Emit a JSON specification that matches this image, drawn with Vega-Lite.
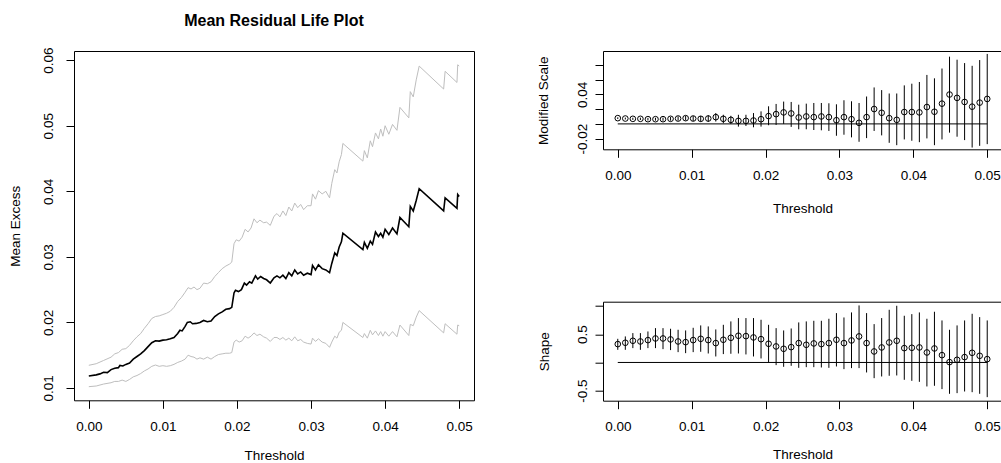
{
"$schema": "https://vega.github.io/schema/vega-lite/v6.json",
"padding": {"left": 7, "top": 12, "right": 0, "bottom": 0},
"bounds": "flush",
"spacing": 129,
"datasets": {
"mrl": [
{"s":"mean","t":0.0000,"v":0.01183},{"s":"mean","t":0.0010,"v":0.01200},{"s":"mean","t":0.0015,"v":0.01215},{"s":"mean","t":0.0020,"v":0.01240},{"s":"mean","t":0.0025,"v":0.01235},{"s":"mean","t":0.0030,"v":0.01280},{"s":"mean","t":0.0035,"v":0.01300},{"s":"mean","t":0.0040,"v":0.01310},{"s":"mean","t":0.0042,"v":0.01345},{"s":"mean","t":0.0046,"v":0.01335},{"s":"mean","t":0.0050,"v":0.01360},{"s":"mean","t":0.0055,"v":0.01380},{"s":"mean","t":0.0060,"v":0.01440},{"s":"mean","t":0.0065,"v":0.01480},{"s":"mean","t":0.0070,"v":0.01520},{"s":"mean","t":0.0075,"v":0.01570},{"s":"mean","t":0.0080,"v":0.01630},{"s":"mean","t":0.0085,"v":0.01690},{"s":"mean","t":0.0090,"v":0.01720},{"s":"mean","t":0.0095,"v":0.01715},{"s":"mean","t":0.0100,"v":0.01730},{"s":"mean","t":0.0105,"v":0.01735},{"s":"mean","t":0.0110,"v":0.01750},{"s":"mean","t":0.0115,"v":0.01770},{"s":"mean","t":0.0120,"v":0.01830},{"s":"mean","t":0.0123,"v":0.01880},{"s":"mean","t":0.0126,"v":0.01870},{"s":"mean","t":0.0130,"v":0.01940},{"s":"mean","t":0.0133,"v":0.02000},{"s":"mean","t":0.0137,"v":0.02010},{"s":"mean","t":0.0140,"v":0.01980},{"s":"mean","t":0.0145,"v":0.01985},{"s":"mean","t":0.0150,"v":0.02000},{"s":"mean","t":0.0155,"v":0.02030},{"s":"mean","t":0.0160,"v":0.02010},{"s":"mean","t":0.0165,"v":0.02020},{"s":"mean","t":0.0170,"v":0.02090},{"s":"mean","t":0.0175,"v":0.02130},{"s":"mean","t":0.0180,"v":0.02160},{"s":"mean","t":0.0185,"v":0.02200},{"s":"mean","t":0.0190,"v":0.02210},{"s":"mean","t":0.0193,"v":0.02230},{"s":"mean","t":0.0196,"v":0.02450},{"s":"mean","t":0.0198,"v":0.02490},{"s":"mean","t":0.0202,"v":0.02470},{"s":"mean","t":0.0206,"v":0.02500},{"s":"mean","t":0.0210,"v":0.02600},{"s":"mean","t":0.0213,"v":0.02570},{"s":"mean","t":0.0217,"v":0.02620},{"s":"mean","t":0.0220,"v":0.02600},{"s":"mean","t":0.0225,"v":0.02710},{"s":"mean","t":0.0228,"v":0.02660},{"s":"mean","t":0.0232,"v":0.02700},{"s":"mean","t":0.0236,"v":0.02670},{"s":"mean","t":0.0240,"v":0.02650},{"s":"mean","t":0.0245,"v":0.02600},{"s":"mean","t":0.0250,"v":0.02680},{"s":"mean","t":0.0254,"v":0.02710},{"s":"mean","t":0.0258,"v":0.02680},{"s":"mean","t":0.0262,"v":0.02720},{"s":"mean","t":0.0266,"v":0.02670},{"s":"mean","t":0.0270,"v":0.02760},{"s":"mean","t":0.0274,"v":0.02710},{"s":"mean","t":0.0278,"v":0.02800},{"s":"mean","t":0.0282,"v":0.02740},{"s":"mean","t":0.0286,"v":0.02770},{"s":"mean","t":0.0290,"v":0.02720},{"s":"mean","t":0.0295,"v":0.02750},{"s":"mean","t":0.0300,"v":0.02730},{"s":"mean","t":0.0302,"v":0.02870},{"s":"mean","t":0.0306,"v":0.02800},{"s":"mean","t":0.0310,"v":0.02880},{"s":"mean","t":0.0315,"v":0.02820},{"s":"mean","t":0.0320,"v":0.02800},{"s":"mean","t":0.0325,"v":0.02760},{"s":"mean","t":0.0328,"v":0.02900},{"s":"mean","t":0.0332,"v":0.03060},{"s":"mean","t":0.0335,"v":0.03020},{"s":"mean","t":0.0338,"v":0.03150},{"s":"mean","t":0.0341,"v":0.03230},{"s":"mean","t":0.0343,"v":0.03360},{"s":"mean","t":0.0370,"v":0.03110},{"s":"mean","t":0.0372,"v":0.03220},{"s":"mean","t":0.0376,"v":0.03130},{"s":"mean","t":0.0380,"v":0.03240},{"s":"mean","t":0.0383,"v":0.03190},{"s":"mean","t":0.0387,"v":0.03380},{"s":"mean","t":0.0391,"v":0.03310},{"s":"mean","t":0.0394,"v":0.03360},{"s":"mean","t":0.0397,"v":0.03300},{"s":"mean","t":0.0400,"v":0.03420},{"s":"mean","t":0.0405,"v":0.03340},{"s":"mean","t":0.0410,"v":0.03440},{"s":"mean","t":0.0416,"v":0.03350},{"s":"mean","t":0.0420,"v":0.03600},{"s":"mean","t":0.0432,"v":0.03460},{"s":"mean","t":0.0434,"v":0.03770},{"s":"mean","t":0.0438,"v":0.03700},{"s":"mean","t":0.0442,"v":0.03860},{"s":"mean","t":0.0446,"v":0.04040},{"s":"mean","t":0.0479,"v":0.03700},{"s":"mean","t":0.0481,"v":0.03900},{"s":"mean","t":0.0497,"v":0.03740},{"s":"mean","t":0.0498,"v":0.03950},{"s":"mean","t":0.0500,"v":0.03920},
{"s":"upper","t":0.0000,"v":0.01346},{"s":"upper","t":0.0010,"v":0.01370},{"s":"upper","t":0.0020,"v":0.01420},{"s":"upper","t":0.0030,"v":0.01470},{"s":"upper","t":0.0035,"v":0.01520},{"s":"upper","t":0.0040,"v":0.01540},{"s":"upper","t":0.0045,"v":0.01590},{"s":"upper","t":0.0050,"v":0.01600},{"s":"upper","t":0.0055,"v":0.01650},{"s":"upper","t":0.0060,"v":0.01720},{"s":"upper","t":0.0065,"v":0.01780},{"s":"upper","t":0.0070,"v":0.01830},{"s":"upper","t":0.0075,"v":0.01910},{"s":"upper","t":0.0080,"v":0.01980},{"s":"upper","t":0.0085,"v":0.02060},{"s":"upper","t":0.0090,"v":0.02090},{"s":"upper","t":0.0095,"v":0.02100},{"s":"upper","t":0.0100,"v":0.02120},{"s":"upper","t":0.0105,"v":0.02140},{"s":"upper","t":0.0110,"v":0.02170},{"s":"upper","t":0.0115,"v":0.02230},{"s":"upper","t":0.0120,"v":0.02320},{"s":"upper","t":0.0125,"v":0.02380},{"s":"upper","t":0.0130,"v":0.02460},{"s":"upper","t":0.0134,"v":0.02530},{"s":"upper","t":0.0138,"v":0.02510},{"s":"upper","t":0.0142,"v":0.02540},{"s":"upper","t":0.0146,"v":0.02500},{"s":"upper","t":0.0150,"v":0.02520},{"s":"upper","t":0.0155,"v":0.02600},{"s":"upper","t":0.0160,"v":0.02590},{"s":"upper","t":0.0165,"v":0.02620},{"s":"upper","t":0.0170,"v":0.02700},{"s":"upper","t":0.0175,"v":0.02760},{"s":"upper","t":0.0180,"v":0.02820},{"s":"upper","t":0.0185,"v":0.02860},{"s":"upper","t":0.0190,"v":0.02890},{"s":"upper","t":0.0193,"v":0.02920},{"s":"upper","t":0.0196,"v":0.03200},{"s":"upper","t":0.0199,"v":0.03260},{"s":"upper","t":0.0203,"v":0.03240},{"s":"upper","t":0.0207,"v":0.03300},{"s":"upper","t":0.0211,"v":0.03420},{"s":"upper","t":0.0215,"v":0.03380},{"s":"upper","t":0.0219,"v":0.03440},{"s":"upper","t":0.0223,"v":0.03580},{"s":"upper","t":0.0227,"v":0.03520},{"s":"upper","t":0.0231,"v":0.03560},{"s":"upper","t":0.0236,"v":0.03520},{"s":"upper","t":0.0240,"v":0.03530},{"s":"upper","t":0.0245,"v":0.03480},{"s":"upper","t":0.0250,"v":0.03620},{"s":"upper","t":0.0254,"v":0.03660},{"s":"upper","t":0.0258,"v":0.03610},{"s":"upper","t":0.0262,"v":0.03700},{"s":"upper","t":0.0266,"v":0.03630},{"s":"upper","t":0.0270,"v":0.03760},{"s":"upper","t":0.0274,"v":0.03700},{"s":"upper","t":0.0278,"v":0.03820},{"s":"upper","t":0.0282,"v":0.03750},{"s":"upper","t":0.0286,"v":0.03800},{"s":"upper","t":0.0290,"v":0.03720},{"s":"upper","t":0.0295,"v":0.03780},{"s":"upper","t":0.0300,"v":0.03780},{"s":"upper","t":0.0302,"v":0.03960},{"s":"upper","t":0.0306,"v":0.03880},{"s":"upper","t":0.0310,"v":0.04010},{"s":"upper","t":0.0315,"v":0.03960},{"s":"upper","t":0.0320,"v":0.04000},{"s":"upper","t":0.0325,"v":0.03900},{"s":"upper","t":0.0328,"v":0.04120},{"s":"upper","t":0.0332,"v":0.04330},{"s":"upper","t":0.0335,"v":0.04280},{"s":"upper","t":0.0338,"v":0.04450},{"s":"upper","t":0.0341,"v":0.04560},{"s":"upper","t":0.0343,"v":0.04730},{"s":"upper","t":0.0370,"v":0.04460},{"s":"upper","t":0.0372,"v":0.04620},{"s":"upper","t":0.0376,"v":0.04510},{"s":"upper","t":0.0380,"v":0.04770},{"s":"upper","t":0.0383,"v":0.04680},{"s":"upper","t":0.0387,"v":0.04890},{"s":"upper","t":0.0391,"v":0.04800},{"s":"upper","t":0.0394,"v":0.04950},{"s":"upper","t":0.0397,"v":0.04840},{"s":"upper","t":0.0400,"v":0.05000},{"s":"upper","t":0.0405,"v":0.04870},{"s":"upper","t":0.0410,"v":0.05020},{"s":"upper","t":0.0416,"v":0.04930},{"s":"upper","t":0.0420,"v":0.05280},{"s":"upper","t":0.0432,"v":0.05120},{"s":"upper","t":0.0434,"v":0.05520},{"s":"upper","t":0.0438,"v":0.05440},{"s":"upper","t":0.0442,"v":0.05700},{"s":"upper","t":0.0446,"v":0.05910},{"s":"upper","t":0.0479,"v":0.05560},{"s":"upper","t":0.0481,"v":0.05830},{"s":"upper","t":0.0497,"v":0.05660},{"s":"upper","t":0.0498,"v":0.05930},{"s":"upper","t":0.0500,"v":0.05910},
{"s":"lower","t":0.0000,"v":0.01020},{"s":"lower","t":0.0010,"v":0.01030},{"s":"lower","t":0.0020,"v":0.01060},{"s":"lower","t":0.0030,"v":0.01080},{"s":"lower","t":0.0035,"v":0.01100},{"s":"lower","t":0.0040,"v":0.01100},{"s":"lower","t":0.0045,"v":0.01120},{"s":"lower","t":0.0050,"v":0.01100},{"s":"lower","t":0.0055,"v":0.01130},{"s":"lower","t":0.0060,"v":0.01170},{"s":"lower","t":0.0065,"v":0.01190},{"s":"lower","t":0.0070,"v":0.01220},{"s":"lower","t":0.0075,"v":0.01260},{"s":"lower","t":0.0080,"v":0.01290},{"s":"lower","t":0.0085,"v":0.01330},{"s":"lower","t":0.0090,"v":0.01350},{"s":"lower","t":0.0095,"v":0.01330},{"s":"lower","t":0.0100,"v":0.01340},{"s":"lower","t":0.0105,"v":0.01330},{"s":"lower","t":0.0110,"v":0.01340},{"s":"lower","t":0.0115,"v":0.01360},{"s":"lower","t":0.0120,"v":0.01390},{"s":"lower","t":0.0125,"v":0.01410},{"s":"lower","t":0.0130,"v":0.01440},{"s":"lower","t":0.0134,"v":0.01500},{"s":"lower","t":0.0138,"v":0.01480},{"s":"lower","t":0.0142,"v":0.01470},{"s":"lower","t":0.0146,"v":0.01440},{"s":"lower","t":0.0150,"v":0.01460},{"s":"lower","t":0.0155,"v":0.01440},{"s":"lower","t":0.0160,"v":0.01470},{"s":"lower","t":0.0165,"v":0.01440},{"s":"lower","t":0.0170,"v":0.01480},{"s":"lower","t":0.0175,"v":0.01510},{"s":"lower","t":0.0180,"v":0.01520},{"s":"lower","t":0.0185,"v":0.01530},{"s":"lower","t":0.0190,"v":0.01530},{"s":"lower","t":0.0193,"v":0.01540},{"s":"lower","t":0.0196,"v":0.01700},{"s":"lower","t":0.0199,"v":0.01730},{"s":"lower","t":0.0203,"v":0.01700},{"s":"lower","t":0.0207,"v":0.01720},{"s":"lower","t":0.0211,"v":0.01790},{"s":"lower","t":0.0215,"v":0.01760},{"s":"lower","t":0.0219,"v":0.01790},{"s":"lower","t":0.0223,"v":0.01840},{"s":"lower","t":0.0227,"v":0.01800},{"s":"lower","t":0.0231,"v":0.01820},{"s":"lower","t":0.0236,"v":0.01780},{"s":"lower","t":0.0240,"v":0.01760},{"s":"lower","t":0.0245,"v":0.01710},{"s":"lower","t":0.0250,"v":0.01770},{"s":"lower","t":0.0254,"v":0.01770},{"s":"lower","t":0.0258,"v":0.01740},{"s":"lower","t":0.0262,"v":0.01770},{"s":"lower","t":0.0266,"v":0.01730},{"s":"lower","t":0.0270,"v":0.01760},{"s":"lower","t":0.0274,"v":0.01720},{"s":"lower","t":0.0278,"v":0.01780},{"s":"lower","t":0.0282,"v":0.01720},{"s":"lower","t":0.0286,"v":0.01740},{"s":"lower","t":0.0290,"v":0.01700},{"s":"lower","t":0.0295,"v":0.01680},{"s":"lower","t":0.0300,"v":0.01670},{"s":"lower","t":0.0302,"v":0.01760},{"s":"lower","t":0.0306,"v":0.01710},{"s":"lower","t":0.0310,"v":0.01750},{"s":"lower","t":0.0315,"v":0.01700},{"s":"lower","t":0.0320,"v":0.01680},{"s":"lower","t":0.0325,"v":0.01620},{"s":"lower","t":0.0328,"v":0.01700},{"s":"lower","t":0.0332,"v":0.01790},{"s":"lower","t":0.0335,"v":0.01760},{"s":"lower","t":0.0338,"v":0.01850},{"s":"lower","t":0.0341,"v":0.01880},{"s":"lower","t":0.0343,"v":0.02000},{"s":"lower","t":0.0370,"v":0.01770},{"s":"lower","t":0.0372,"v":0.01830},{"s":"lower","t":0.0376,"v":0.01760},{"s":"lower","t":0.0380,"v":0.01880},{"s":"lower","t":0.0383,"v":0.01810},{"s":"lower","t":0.0387,"v":0.01870},{"s":"lower","t":0.0391,"v":0.01800},{"s":"lower","t":0.0394,"v":0.01860},{"s":"lower","t":0.0397,"v":0.01790},{"s":"lower","t":0.0400,"v":0.01860},{"s":"lower","t":0.0405,"v":0.01790},{"s":"lower","t":0.0410,"v":0.01860},{"s":"lower","t":0.0416,"v":0.01780},{"s":"lower","t":0.0420,"v":0.01960},{"s":"lower","t":0.0432,"v":0.01800},{"s":"lower","t":0.0434,"v":0.01970},{"s":"lower","t":0.0438,"v":0.01950},{"s":"lower","t":0.0442,"v":0.02080},{"s":"lower","t":0.0446,"v":0.02180},{"s":"lower","t":0.0479,"v":0.01840},{"s":"lower","t":0.0481,"v":0.01980},{"s":"lower","t":0.0497,"v":0.01820},{"s":"lower","t":0.0498,"v":0.01960},{"s":"lower","t":0.0500,"v":0.01950}
],
"fit": [
{"u":0.0000000,"sc":0.0078,"sl":0.0066,"sh":0.0090,"sp":0.325,"pl":0.224,"ph":0.419},
{"u":0.0010204,"sc":0.0073,"sl":0.0060,"sh":0.0086,"sp":0.349,"pl":0.224,"ph":0.461},
{"u":0.0020408,"sc":0.0069,"sl":0.0054,"sh":0.0084,"sp":0.384,"pl":0.254,"ph":0.520},
{"u":0.0030612,"sc":0.0069,"sl":0.0053,"sh":0.0085,"sp":0.372,"pl":0.224,"ph":0.520},
{"u":0.0040816,"sc":0.0064,"sl":0.0046,"sh":0.0082,"sp":0.396,"pl":0.254,"ph":0.549},
{"u":0.0051020,"sc":0.0064,"sl":0.0044,"sh":0.0084,"sp":0.425,"pl":0.254,"ph":0.608},
{"u":0.0061224,"sc":0.0064,"sl":0.0042,"sh":0.0086,"sp":0.425,"pl":0.236,"ph":0.608},
{"u":0.0071429,"sc":0.0069,"sl":0.0044,"sh":0.0094,"sp":0.408,"pl":0.219,"ph":0.597},
{"u":0.0081633,"sc":0.0073,"sl":0.0045,"sh":0.0101,"sp":0.372,"pl":0.183,"ph":0.579},
{"u":0.0091837,"sc":0.0078,"sl":0.0048,"sh":0.0108,"sp":0.360,"pl":0.165,"ph":0.567},
{"u":0.0102041,"sc":0.0073,"sl":0.0039,"sh":0.0107,"sp":0.396,"pl":0.183,"ph":0.614},
{"u":0.0112245,"sc":0.0069,"sl":0.0031,"sh":0.0107,"sp":0.419,"pl":0.189,"ph":0.656},
{"u":0.0122449,"sc":0.0073,"sl":0.0028,"sh":0.0118,"sp":0.396,"pl":0.159,"ph":0.638},
{"u":0.0132653,"sc":0.0092,"sl":0.0032,"sh":0.0147,"sp":0.343,"pl":0.106,"ph":0.585},
{"u":0.0142857,"sc":0.0069,"sl":0.0009,"sh":0.0124,"sp":0.402,"pl":0.148,"ph":0.667},
{"u":0.0153061,"sc":0.0055,"sl":0.0000,"sh":0.0110,"sp":0.437,"pl":0.154,"ph":0.727},
{"u":0.0163265,"sc":0.0041,"sl":-0.0037,"sh":0.0124,"sp":0.473,"pl":0.159,"ph":0.786},
{"u":0.0173469,"sc":0.0041,"sl":-0.0028,"sh":0.0124,"sp":0.467,"pl":0.142,"ph":0.786},
{"u":0.0183673,"sc":0.0046,"sl":-0.0046,"sh":0.0147,"sp":0.443,"pl":0.106,"ph":0.786},
{"u":0.0193878,"sc":0.0064,"sl":-0.0037,"sh":0.0170,"sp":0.413,"pl":0.071,"ph":0.756},
{"u":0.0204082,"sc":0.0106,"sl":-0.0018,"sh":0.0239,"sp":0.331,"pl":0.000,"ph":0.667},
{"u":0.0214286,"sc":0.0133,"sl":-0.0014,"sh":0.0271,"sp":0.284,"pl":-0.047,"ph":0.608},
{"u":0.0224490,"sc":0.0156,"sl":0.0000,"sh":0.0303,"sp":0.242,"pl":-0.077,"ph":0.567},
{"u":0.0234694,"sc":0.0142,"sl":-0.0041,"sh":0.0298,"sp":0.272,"pl":-0.059,"ph":0.602},
{"u":0.0244898,"sc":0.0087,"sl":-0.0073,"sh":0.0261,"sp":0.343,"pl":-0.095,"ph":0.709},
{"u":0.0255102,"sc":0.0101,"sl":-0.0073,"sh":0.0275,"sp":0.313,"pl":-0.083,"ph":0.727},
{"u":0.0265306,"sc":0.0092,"sl":-0.0083,"sh":0.0284,"sp":0.337,"pl":-0.083,"ph":0.738},
{"u":0.0275510,"sc":0.0101,"sl":-0.0087,"sh":0.0284,"sp":0.325,"pl":-0.089,"ph":0.738},
{"u":0.0285714,"sc":0.0092,"sl":-0.0096,"sh":0.0280,"sp":0.343,"pl":-0.095,"ph":0.774},
{"u":0.0295918,"sc":0.0050,"sl":-0.0161,"sh":0.0266,"sp":0.402,"pl":-0.071,"ph":0.874},
{"u":0.0306122,"sc":0.0092,"sl":-0.0147,"sh":0.0321,"sp":0.343,"pl":-0.118,"ph":0.797},
{"u":0.0316327,"sc":0.0064,"sl":-0.0183,"sh":0.0307,"sp":0.390,"pl":-0.100,"ph":0.886},
{"u":0.0326531,"sc":0.0014,"sl":-0.0243,"sh":0.0284,"sp":0.461,"pl":-0.100,"ph":1.010},
{"u":0.0336735,"sc":0.0092,"sl":-0.0193,"sh":0.0372,"sp":0.343,"pl":-0.177,"ph":0.874},
{"u":0.0346939,"sc":0.0202,"sl":-0.0096,"sh":0.0495,"sp":0.195,"pl":-0.278,"ph":0.679},
{"u":0.0357143,"sc":0.0151,"sl":-0.0156,"sh":0.0459,"sp":0.266,"pl":-0.248,"ph":0.786},
{"u":0.0367347,"sc":0.0078,"sl":-0.0257,"sh":0.0413,"sp":0.354,"pl":-0.236,"ph":0.933},
{"u":0.0377551,"sc":0.0055,"sl":-0.0289,"sh":0.0413,"sp":0.384,"pl":-0.230,"ph":1.004},
{"u":0.0387755,"sc":0.0161,"sl":-0.0211,"sh":0.0523,"sp":0.254,"pl":-0.307,"ph":0.827},
{"u":0.0397959,"sc":0.0161,"sl":-0.0229,"sh":0.0546,"sp":0.260,"pl":-0.325,"ph":0.856},
{"u":0.0408163,"sc":0.0156,"sl":-0.0248,"sh":0.0569,"sp":0.266,"pl":-0.343,"ph":0.886},
{"u":0.0418367,"sc":0.0229,"sl":-0.0197,"sh":0.0665,"sp":0.177,"pl":-0.425,"ph":0.774},
{"u":0.0428571,"sc":0.0165,"sl":-0.0289,"sh":0.0619,"sp":0.248,"pl":-0.413,"ph":0.898},
{"u":0.0438776,"sc":0.0275,"sl":-0.0211,"sh":0.0752,"sp":0.130,"pl":-0.472,"ph":0.744},
{"u":0.0448980,"sc":0.0399,"sl":-0.0119,"sh":0.0913,"sp":0.006,"pl":-0.555,"ph":0.579},
{"u":0.0459184,"sc":0.0353,"sl":-0.0174,"sh":0.0872,"sp":0.047,"pl":-0.543,"ph":0.656},
{"u":0.0469388,"sc":0.0298,"sl":-0.0220,"sh":0.0826,"sp":0.095,"pl":-0.514,"ph":0.744},
{"u":0.0479592,"sc":0.0234,"sl":-0.0321,"sh":0.0789,"sp":0.171,"pl":-0.526,"ph":0.862},
{"u":0.0489796,"sc":0.0289,"sl":-0.0298,"sh":0.0867,"sp":0.118,"pl":-0.555,"ph":0.803},
{"u":0.0500000,"sc":0.0339,"sl":-0.0275,"sh":0.0950,"sp":0.059,"pl":-0.614,"ph":0.744}
]
},
"hconcat": [
{
"width": 400,
"height": 349.3,
"title": {"text": "Mean Residual Life Plot", "font": "Liberation Sans", "fontSize": 16, "fontWeight": "bold", "color": "black", "baseline": "alphabetic", "offset": 5.5, "frame": "group", "anchor": "middle"},
"data": {"name": "mrl"},
"encoding": {
"x": {"field": "t", "type": "quantitative", "scale": {"domain": [-0.002, 0.052], "nice": false, "zero": false},
"axis": {"title": "Threshold", "values": [0, 0.01, 0.02, 0.03, 0.04, 0.05], "format": ".2f", "labelOverlap": false, "titleY": 59.5}},
"y": {"field": "v", "type": "quantitative", "scale": {"domain": [0.00812, 0.0614], "nice": false, "zero": false},
"axis": {"title": "Mean Excess", "values": [0.01, 0.02, 0.03, 0.04, 0.05, 0.06], "format": ".2f", "labelOverlap": false, "labelPadding": 13.6, "titleX": -55, "titleY": 174.65}}
},
"layer": [
{"transform": [{"filter": "datum.s != 'mean'"}], "mark": {"type": "line", "color": "#bebebe", "strokeWidth": 1}, "encoding": {"detail": {"field": "s"}}},
{"transform": [{"filter": "datum.s == 'mean'"}], "mark": {"type": "line", "color": "black", "strokeWidth": 1.6}}
]
},
{
"vconcat": [
{
"width": 399,
"height": 98.3,
"data": {"name": "fit"},
"encoding": {
"x": {"field": "u", "type": "quantitative", "scale": {"domain": [-0.002, 0.052], "nice": false, "zero": false},
"axis": {"title": "Threshold", "values": [0, 0.01, 0.02, 0.03, 0.04, 0.05], "format": ".2f", "labelOverlap": false, "titleY": 63}}
},
"layer": [
{"mark": {"type": "rule", "color": "black", "strokeWidth": 1},
"encoding": {"x": {"aggregate": "min", "field": "u", "type": "quantitative"}, "x2": {"aggregate": "max", "field": "u"}, "y": {"datum": 0, "type": "quantitative", "scale": {"domain": [-0.0345, 0.099], "nice": false, "zero": false},
"axis": {"title": "Modified Scale", "values": [-0.02, 0, 0.02, 0.04, 0.06, 0.08], "labelExpr": "datum.value < -0.01 ? '-0.02' : (datum.value > 0.039 && datum.value < 0.041 ? '0.04' : '')", "labelOverlap": false, "labelPadding": 9, "titleX": -56, "titleY": 49.15}}}},
{"mark": {"type": "rule", "color": "black", "strokeWidth": 1},
"encoding": {"y": {"field": "sl", "type": "quantitative", "scale": {"domain": [-0.0345, 0.099], "nice": false, "zero": false},
"axis": {"title": "Modified Scale", "values": [-0.02, 0, 0.02, 0.04, 0.06, 0.08], "labelExpr": "datum.value < -0.01 ? '-0.02' : (datum.value > 0.039 && datum.value < 0.041 ? '0.04' : '')", "labelOverlap": false, "labelPadding": 9, "titleX": -56, "titleY": 49.15}}, "y2": {"field": "sh"}}},
{"mark": {"type": "point", "shape": "circle", "filled": false, "color": "black", "size": 32, "strokeWidth": 1, "opacity": 1},
"encoding": {"y": {"field": "sc", "type": "quantitative", "scale": {"domain": [-0.0345, 0.099], "nice": false, "zero": false},
"axis": {"title": "Modified Scale", "values": [-0.02, 0, 0.02, 0.04, 0.06, 0.08], "labelExpr": "datum.value < -0.01 ? '-0.02' : (datum.value > 0.039 && datum.value < 0.041 ? '0.04' : '')", "labelOverlap": false, "labelPadding": 9, "titleX": -56, "titleY": 49.15}}}}
]
},
{
"width": 399,
"height": 99,
"data": {"name": "fit"},
"encoding": {
"x": {"field": "u", "type": "quantitative", "scale": {"domain": [-0.002, 0.052], "nice": false, "zero": false},
"axis": {"title": "Threshold", "values": [0, 0.01, 0.02, 0.03, 0.04, 0.05], "format": ".2f", "labelOverlap": false, "titleY": 57.5}}
},
"layer": [
{"mark": {"type": "rule", "color": "black", "strokeWidth": 1},
"encoding": {"x": {"aggregate": "min", "field": "u", "type": "quantitative"}, "x2": {"aggregate": "max", "field": "u"}, "y": {"datum": 0, "type": "quantitative", "scale": {"domain": [-0.677, 1.076], "nice": false, "zero": false},
"axis": {"title": "Shape", "values": [-0.5, 0, 0.5, 1], "labelExpr": "datum.value < -0.4 ? '-0.5' : (datum.value > 0.4 && datum.value < 0.6 ? '0.5' : '')", "labelOverlap": false, "labelPadding": 9, "titleX": -54.5, "titleY": 49.5}}}},
{"mark": {"type": "rule", "color": "black", "strokeWidth": 1},
"encoding": {"y": {"field": "pl", "type": "quantitative", "scale": {"domain": [-0.677, 1.076], "nice": false, "zero": false},
"axis": {"title": "Shape", "values": [-0.5, 0, 0.5, 1], "labelExpr": "datum.value < -0.4 ? '-0.5' : (datum.value > 0.4 && datum.value < 0.6 ? '0.5' : '')", "labelOverlap": false, "labelPadding": 9, "titleX": -54.5, "titleY": 49.5}}, "y2": {"field": "ph"}}},
{"mark": {"type": "point", "shape": "circle", "filled": false, "color": "black", "size": 32, "strokeWidth": 1, "opacity": 1},
"encoding": {"y": {"field": "sp", "type": "quantitative", "scale": {"domain": [-0.677, 1.076], "nice": false, "zero": false},
"axis": {"title": "Shape", "values": [-0.5, 0, 0.5, 1], "labelExpr": "datum.value < -0.4 ? '-0.5' : (datum.value > 0.4 && datum.value < 0.6 ? '0.5' : '')", "labelOverlap": false, "labelPadding": 9, "titleX": -54.5, "titleY": 49.5}}}}
]
}
],
"spacing": 151.7,
"bounds": "flush"
}
],
"config": {
"font": "Liberation Sans",
"background": "white",
"view": {"stroke": "black", "strokeWidth": 1},
"axis": {"domain": false, "grid": false, "tickColor": "black", "tickSize": 8, "tickWidth": 1, "labelColor": "black", "labelFont": "Liberation Sans", "labelFontSize": 13.5, "titleFont": "Liberation Sans", "titleFontSize": 13.5, "titleFontWeight": "normal", "titleColor": "black", "labelBaseline": "alphabetic", "titleBaseline": "alphabetic", "labelOverlap": false, "labelFlush": false},
"axisX": {"labelPadding": 22},
"axisY": {"labelAngle": 270, "labelAlign": "center", "titleAngle": 270, "titleAlign": "center"}
}
}
